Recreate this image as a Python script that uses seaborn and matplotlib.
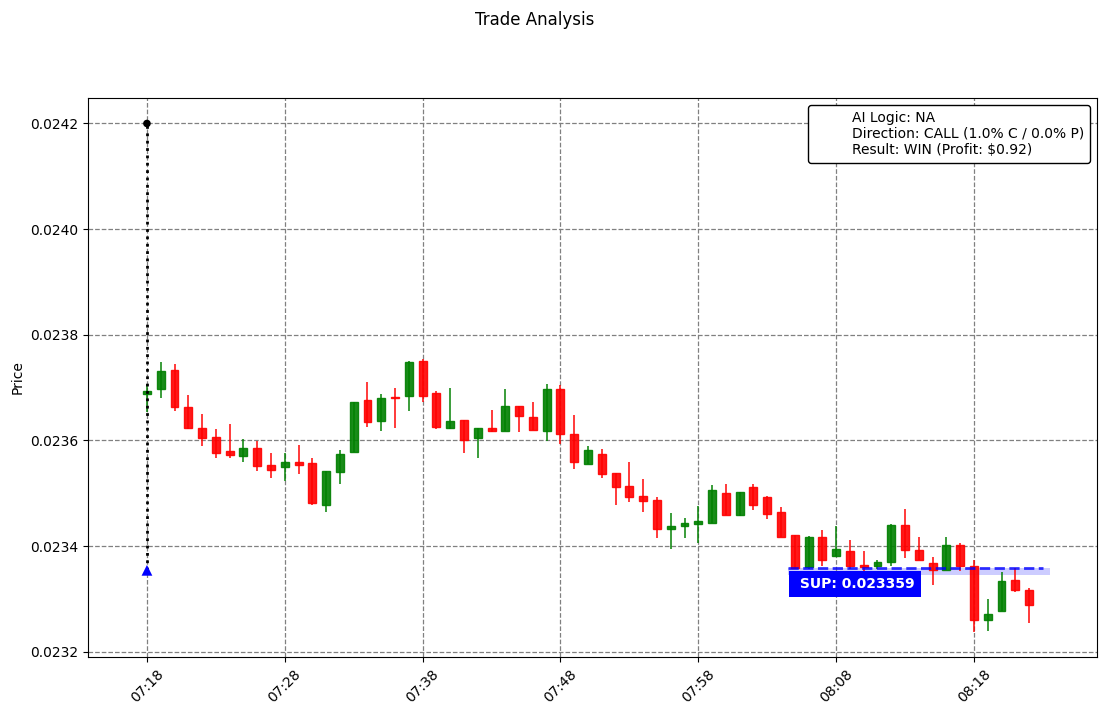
import pandas as pd
import numpy as np
import matplotlib
matplotlib.use("Agg")
import matplotlib.pyplot as plt
import matplotlib.dates as mdates
from matplotlib.lines import Line2D
from matplotlib.ticker import MultipleLocator, FormatStrFormatter
import seaborn as sns

# one candle per minute, 07:18 .. 08:22
times = pd.date_range("2024-01-01 07:18", periods=65, freq="min")

opens = [0.023688, 0.023697, 0.023734, 0.023664, 0.023624, 0.023606, 0.023579, 0.023570, 0.023585, 0.023553,
         0.023550, 0.023559, 0.023557, 0.023478, 0.023541, 0.023578, 0.023677, 0.023636, 0.023682, 0.023685,
         0.023751, 0.023690, 0.023623, 0.023638, 0.023604, 0.023623, 0.023618, 0.023666, 0.023645, 0.023618,
         0.023698, 0.023613, 0.023556, 0.023574, 0.023538, 0.023513, 0.023495, 0.023487, 0.023432, 0.023437,
         0.023442, 0.023444, 0.023500, 0.023459, 0.023511, 0.023493, 0.023464, 0.023420, 0.023360, 0.023417,
         0.023382, 0.023391, 0.023364, 0.023363, 0.023369, 0.023440, 0.023393, 0.023368, 0.023355, 0.023402,
         0.023362, 0.023260, 0.023277, 0.023336, 0.023317]
highs = [0.023707, 0.023748, 0.023744, 0.023686, 0.023650, 0.023622, 0.023631, 0.023602, 0.023598, 0.023577,
         0.023577, 0.023592, 0.023566, 0.023542, 0.023582, 0.023673, 0.023711, 0.023688, 0.023700, 0.023751,
         0.023755, 0.023694, 0.023700, 0.023638, 0.023624, 0.023658, 0.023698, 0.023666, 0.023673, 0.023707,
         0.023704, 0.023648, 0.023590, 0.023584, 0.023538, 0.023560, 0.023526, 0.023492, 0.023462, 0.023453,
         0.023476, 0.023515, 0.023517, 0.023503, 0.023518, 0.023494, 0.023473, 0.023420, 0.023419, 0.023430,
         0.023437, 0.023412, 0.023390, 0.023374, 0.023442, 0.023470, 0.023417, 0.023380, 0.023417, 0.023405,
         0.023373, 0.023300, 0.023351, 0.023359, 0.023320]
lows = [0.023653, 0.023680, 0.023656, 0.023622, 0.023590, 0.023566, 0.023566, 0.023559, 0.023543, 0.023528,
        0.023524, 0.023537, 0.023478, 0.023464, 0.023518, 0.023578, 0.023626, 0.023618, 0.023624, 0.023656,
        0.023672, 0.023621, 0.023621, 0.023577, 0.023566, 0.023616, 0.023618, 0.023616, 0.023619, 0.023598,
        0.023593, 0.023545, 0.023556, 0.023528, 0.023477, 0.023484, 0.023464, 0.023415, 0.023394, 0.023415,
        0.023405, 0.023444, 0.023459, 0.023456, 0.023469, 0.023451, 0.023417, 0.023356, 0.023356, 0.023362,
        0.023382, 0.023356, 0.023353, 0.023356, 0.023362, 0.023377, 0.023373, 0.023326, 0.023355, 0.023353,
        0.023238, 0.023240, 0.023277, 0.023313, 0.023255]
closes = [0.023694, 0.023731, 0.023663, 0.023623, 0.023604, 0.023576, 0.023572, 0.023585, 0.023552, 0.023544,
          0.023560, 0.023553, 0.023481, 0.023542, 0.023574, 0.023673, 0.023634, 0.023681, 0.023680, 0.023749,
          0.023685, 0.023625, 0.023636, 0.023600, 0.023624, 0.023618, 0.023666, 0.023646, 0.023619, 0.023698,
          0.023612, 0.023559, 0.023581, 0.023537, 0.023512, 0.023493, 0.023486, 0.023432, 0.023438, 0.023444,
          0.023447, 0.023506, 0.023459, 0.023503, 0.023478, 0.023461, 0.023417, 0.023359, 0.023417, 0.023373,
          0.023395, 0.023363, 0.023360, 0.023370, 0.023440, 0.023392, 0.023373, 0.023355, 0.023402, 0.023363,
          0.023260, 0.023272, 0.023334, 0.023317, 0.023288]

entry_time = pd.Timestamp("2024-01-01 07:18")
entry_price = 0.023354
top_price = 0.0242

sup_level = 0.023359
sup_start = pd.Timestamp("2024-01-01 08:04:30")
sup_end = pd.Timestamp("2024-01-01 08:23:00")
band_end = pd.Timestamp("2024-01-01 08:23:30")
band_low = 0.023346

info_lines = ["AI Logic: NA",
              "Direction: CALL (1.0% C / 0.0% P)",
              "Result: WIN (Profit: $0.92)"]

df = pd.DataFrame({"time": times, "open": opens, "high": highs, "low": lows, "close": closes})
df["up"] = df["close"] >= df["open"]
df["color"] = np.where(df["up"], "green", "red")

fig, ax = plt.subplots(figsize=(11.05, 7.16), dpi=100)
fig.subplots_adjust(left=0.0796, right=0.9928, top=0.863, bottom=0.0824)

# wicks
ax.vlines(df["time"], df["low"], df["high"], colors=df["color"], linewidth=1.2, alpha=0.9, zorder=2)
# bodies
body_bottom = np.minimum(df["open"], df["close"])
body_height = np.abs(df["close"] - df["open"])
ax.bar(df["time"], body_height, bottom=body_bottom, width=0.0004,
       color=df["color"], edgecolor=df["color"], linewidth=1, alpha=0.9, zorder=3)

# entry marker
ax.plot([entry_time, entry_time], [entry_price, top_price], color="black", linestyle=":", linewidth=2, zorder=4)
marks = pd.DataFrame({"time": [entry_time, entry_time], "price": [top_price, entry_price], "kind": ["top", "entry"]})
sns.scatterplot(data=marks, x="time", y="price", hue="kind", style="kind",
                palette={"top": "black", "entry": "blue"}, markers={"top": "o", "entry": "^"},
                s=[30, 60], linewidth=0, legend=False, ax=ax, zorder=5)

# support level
ax.fill_between([sup_start, band_end], band_low, sup_level, color="blue", alpha=0.2, linewidth=0, zorder=1)
ax.hlines(sup_level, sup_start, sup_end, colors="blue", linestyles="--", linewidth=2, alpha=0.8, zorder=4)
ax.text(sup_start + pd.Timedelta(seconds=30), sup_level - 0.000018, f" SUP: {sup_level:.6f}", color="white",
        fontweight="bold", fontsize=10, ha="left", va="top", zorder=6,
        bbox=dict(boxstyle="square,pad=0.45", facecolor="blue", edgecolor="none"))

ax.set_xlim(entry_time - pd.Timedelta(minutes=4.28), entry_time + pd.Timedelta(minutes=60 + 8.93))
ax.xaxis.set_major_locator(mdates.MinuteLocator(byminute=[8, 18, 28, 38, 48, 58]))
ax.xaxis.set_major_formatter(mdates.DateFormatter("%H:%M"))
plt.setp(ax.get_xticklabels(), rotation=45)
ax.yaxis.set_major_locator(MultipleLocator(0.0002))
ax.yaxis.set_major_formatter(FormatStrFormatter("%.4f"))
ax.set_xlabel("")
ax.set_ylabel("Price")
ax.grid(True, linestyle="--", color="gray", linewidth=0.9)

handle = Line2D([], [], color="none")
leg = ax.legend([handle], ["\n".join(info_lines)], loc="upper right", framealpha=1, edgecolor="black")

fig.suptitle("Trade Analysis", x=0.484, y=0.985)
fig.savefig("out.png", dpi=100)
